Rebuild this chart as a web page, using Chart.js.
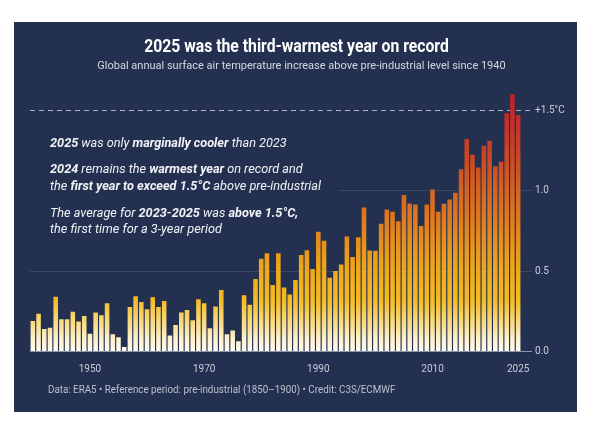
<!DOCTYPE html>
<html>
<head>
<meta charset="utf-8">
<script src="https://cdn.jsdelivr.net/npm/chart.js@4.4.1/dist/chart.umd.min.js"></script>
<style>
  html, body { margin: 0; background: #fff; }
  #panel { position: absolute; left: 14px; top: 22px; width: 563px; height: 390px; background: #233050; }
  canvas { display: block; }
</style>
</head>
<body>
<div id="panel"><canvas id="eraChart" width="563" height="390"></canvas></div>
<script>
// ERA5 global annual surface air temperature increase above pre-industrial (°C)
const YEARS = [
  1940, 1941, 1942, 1943, 1944, 1945, 1946, 1947, 1948, 1949,
  1950, 1951, 1952, 1953, 1954, 1955, 1956, 1957, 1958, 1959,
  1960, 1961, 1962, 1963, 1964, 1965, 1966, 1967, 1968, 1969,
  1970, 1971, 1972, 1973, 1974, 1975, 1976, 1977, 1978, 1979,
  1980, 1981, 1982, 1983, 1984, 1985, 1986, 1987, 1988, 1989,
  1990, 1991, 1992, 1993, 1994, 1995, 1996, 1997, 1998, 1999,
  2000, 2001, 2002, 2003, 2004, 2005, 2006, 2007, 2008, 2009,
  2010, 2011, 2012, 2013, 2014, 2015, 2016, 2017, 2018, 2019,
  2020, 2021, 2022, 2023, 2024, 2025
];

const ANOMALY = [
  0.19, 0.235, 0.14, 0.148, 0.34, 0.20, 0.20, 0.247, 0.187, 0.22,
  0.11, 0.243, 0.225, 0.30, 0.107, 0.088, 0.028, 0.276, 0.343, 0.307,
  0.262, 0.337, 0.276, 0.314, 0.10, 0.165, 0.243, 0.258, 0.194, 0.324,
  0.30, 0.144, 0.28, 0.382, 0.107, 0.13, 0.063, 0.35, 0.29, 0.45,
  0.576, 0.61, 0.413, 0.61, 0.397, 0.355, 0.444, 0.60, 0.63, 0.512,
  0.744, 0.688, 0.458, 0.50, 0.54, 0.715, 0.587, 0.71, 0.895, 0.628,
  0.626, 0.794, 0.883, 0.868, 0.81, 0.972, 0.92, 0.914, 0.78, 0.914,
  1.007, 0.868, 0.918, 0.945, 0.986, 1.133, 1.32, 1.222, 1.144, 1.278,
  1.31, 1.152, 1.179, 1.481, 1.60, 1.47
];

const SHOWN_YEARS = [1950, 1970, 1990, 2010, 2025];
const Y_TICKS = [0, 0.5, 1.0, 1.5];
const Y_TICK_LABELS = ['0.0', '0.5', '1.0', '+1.5°C'];
const THRESHOLD = 1.5;

const TITLE = '2025 was the third-warmest year on record';
const SUBTITLE = 'Global annual surface air temperature increase above pre-industrial level since 1940';
const FOOTER = 'Data: ERA5 • Reference period: pre-industrial (1850–1900) • Credit: C3S/ECMWF';

// runs of [text, bold]
const NOTES = [
  [['2025', 1], [' was only ', 0], ['marginally cooler', 1], [' than 2023', 0]],
  [['2024', 1], [' remains the ', 0], ['warmest year', 1], [' on record and', 0]],
  [['the ', 0], ['first year to exceed 1.5°C', 1], [' above pre-industrial', 0]],
  [['The average for ', 0], ['2023-2025', 1], [' was ', 0], ['above 1.5°C,', 1]],
  [['the first time for a 3-year period', 0]]
];
const NOTE_BASELINES = [124.5, 151, 167.5, 194.5, 210.5];

const NAVY = '#233050';
const FONT = 'Roboto, "Noto Sans", sans-serif';

// draws a line made of styled runs, squeezed horizontally (condensed look)
function drawRuns(ctx, runs, x, y, o) {
  ctx.save();
  const fontFor = bold => `${o.italic ? 'italic ' : ''}${bold ? 'bold ' : ''}${o.size}px ${FONT}`;
  let w = 0;
  runs.forEach(r => { ctx.font = fontFor(r[1]); w += ctx.measureText(r[0]).width; });
  let x0 = x;
  if (o.align === 'center') x0 = x - (w * o.sx) / 2;
  ctx.translate(x0, y);
  ctx.scale(o.sx, 1);
  ctx.fillStyle = o.color;
  ctx.textBaseline = 'alphabetic';
  ctx.textAlign = 'left';
  let cx = 0;
  runs.forEach(r => {
    ctx.font = fontFor(r[1]);
    ctx.fillText(r[0], cx, 0);
    cx += ctx.measureText(r[0]).width;
  });
  ctx.restore();
}

let barGradient = null;
function barColor(context) {
  const chart = context.chart;
  if (!chart.chartArea) return '#f3b81f';
  if (barGradient) return barGradient;
  const y = chart.scales.y;
  const g = chart.ctx.createLinearGradient(0, y.getPixelForValue(0), 0, y.getPixelForValue(1.6));
  g.addColorStop(0.00, '#fffcf4');
  g.addColorStop(0.05, '#fdf0cc');
  g.addColorStop(0.125, '#f9d772');
  g.addColorStop(0.20, '#f4bb22');
  g.addColorStop(0.34, '#eda41a');
  g.addColorStop(0.50, '#e07d1e');
  g.addColorStop(0.625, '#d6631f');
  g.addColorStop(0.75, '#cc4822');
  g.addColorStop(0.875, '#c4322a');
  g.addColorStop(1.00, '#bd1f28');
  barGradient = g;
  return g;
}

const textPlugin = {
  id: 'eraTexts',
  beforeDatasetsDraw(chart) {
    const ctx = chart.ctx;
    const ca = chart.chartArea;
    // box behind the notes hides the grid there
    ctx.save();
    ctx.fillStyle = NAVY;
    ctx.fillRect(ca.left, 98, 308, 122);
    // dashed 1.5 °C line
    const y = Math.round(chart.scales.y.getPixelForValue(THRESHOLD)) + 0.5;
    ctx.strokeStyle = '#aab2c2';
    ctx.lineWidth = 1;
    ctx.setLineDash([5, 4]);
    ctx.beginPath();
    ctx.moveTo(ca.left, y);
    ctx.lineTo(ca.right + 11, y);
    ctx.stroke();
    ctx.restore();
  },
  afterDraw(chart) {
    const ctx = chart.ctx;
    drawRuns(ctx, [[TITLE, 1]], 282.5, 29.5, { size: 17.5, sx: 0.9, align: 'center', color: '#ffffff' });
    drawRuns(ctx, [[SUBTITLE, 0]], 287.5, 47, { size: 11, sx: 1.0, align: 'center', color: '#d4d8e0' });
    NOTES.forEach((runs, i) => {
      drawRuns(ctx, runs, 36, NOTE_BASELINES[i], { size: 13.5, italic: true, sx: 0.94, color: '#f2f3f6' });
    });
    drawRuns(ctx, [[FOOTER, 0]], 34, 371, { size: 10, sx: 0.98, color: '#b9c0cd' });
  }
};

new Chart(document.getElementById('eraChart'), {
  type: 'bar',
  data: {
    labels: YEARS,
    datasets: [{
      data: ANOMALY,
      backgroundColor: barColor,
      borderWidth: 0,
      barPercentage: 0.8,
      categoryPercentage: 1.0
    }]
  },
  options: {
    responsive: false,
    animation: false,
    layout: { padding: { left: 16, right: 0, top: 64, bottom: 0 } },
    plugins: {
      legend: { display: false },
      tooltip: { enabled: false }
    },
    scales: {
      x: {
        grid: { display: false },
        border: { display: false },
        afterFit(scale) { scale.height = 60.5; },
        ticks: {
          autoSkip: false,
          maxRotation: 0,
          padding: 4,
          color: '#c8cdd7',
          font: { family: FONT, size: 10 },
          callback: (v, i) => SHOWN_YEARS.includes(YEARS[i]) ? String(YEARS[i]) : ''
        }
      },
      y: {
        position: 'right',
        min: 0,
        max: 1.65,
        afterFit(scale) { scale.width = 56; },
        afterBuildTicks(scale) { scale.ticks = Y_TICKS.map(v => ({ value: v })); },
        border: { display: false },
        grid: {
          tickLength: 11,
          color: c => c.tick.value === 0 ? '#8f98ab' : (c.tick.value === THRESHOLD ? 'rgba(0,0,0,0)' : '#3b4766'),
          tickColor: c => c.tick.value === 0 ? '#8f98ab' : (c.tick.value === THRESHOLD ? 'rgba(0,0,0,0)' : '#3b4766')
        },
        ticks: {
          padding: 3,
          color: '#c8cdd7',
          font: { family: FONT, size: 10 },
          callback: v => {
            const i = Y_TICKS.indexOf(v);
            return i >= 0 ? Y_TICK_LABELS[i] : '';
          }
        }
      }
    }
  },
  plugins: [textPlugin]
});
</script>
</body>
</html>
